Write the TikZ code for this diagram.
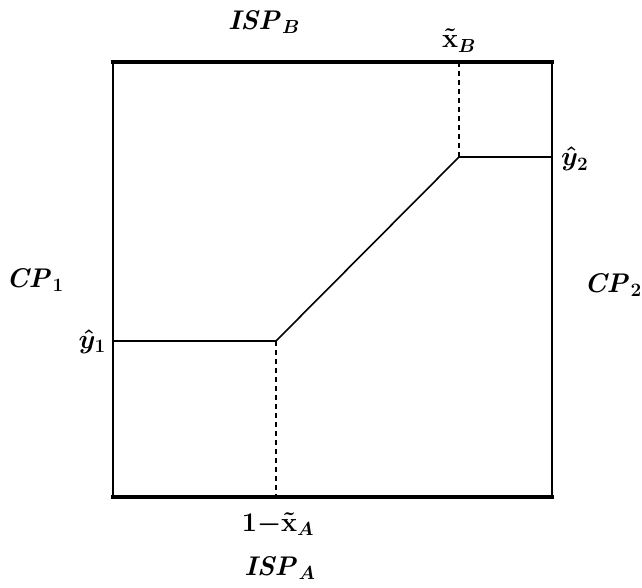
\RequirePackage{fix-cm}
\documentclass[tikz,border=0pt]{standalone}
\usepackage{amsmath,amssymb}
\usepackage{tikz}
\usetikzlibrary{positioning}

\begin{document}
\begin{tikzpicture}[x=1pt,y=-1pt,font=\fontsize{27}{32}\selectfont\boldmath,
  frame/.style={line width=1.6pt},
  market/.style={line width=4.5pt,line cap=rect},
  guide/.style={line width=1.3pt,dash pattern=on 5pt off 4pt}]
  \useasboundingbox (0,0) rectangle (642,588);

  % box and kinks
  \coordinate (TL) at (113,62);
  \coordinate (TR) at (552,62);
  \coordinate (BL) at (113,497);
  \coordinate (BR) at (552,497);
  \coordinate (Y1) at (113,341);
  \coordinate (K1) at (276,341);
  \coordinate (K2) at (459,157);
  \coordinate (Y2) at (552,157);
  \coordinate (XB) at (459,62);
  \coordinate (XA) at (276,497);

  \draw[frame] (TL) -- (BL);
  \draw[frame] (TR) -- (BR);
  \draw[market] (TL) -- (TR);
  \draw[market] (BL) -- (BR);
  \draw[frame] (Y1) -- (K1) -- (K2) -- (Y2);
  \draw[guide] (K1) -- (XA);
  \draw[guide] (K2) -- (XB);

  \node (ispB) at (264,22) {$\mathit{ISP}_B$};
  \node[anchor=base] (xB) at (459,48) {$\tilde{\mathrm{x}}_B$};
  \node (cp1) at (35,280) {$\mathit{CP}_1$};
  \node[anchor=base east,inner sep=1pt] (y1) at (107,348) {$\hat{y}_1$};
  \node[anchor=base west,inner sep=1pt] (y2) at (560,166) {$\hat{y}_2$};
  \node[inner sep=0pt] (cp2) at (613,285) {$\mathit{CP}_2$};
  \node[anchor=base] (xA) at (278,531) {$1{-}\tilde{\mathrm{x}}_A$};
  \node (ispA) at (280,568) {$\mathit{ISP}_A$};
\end{tikzpicture}
\end{document}
